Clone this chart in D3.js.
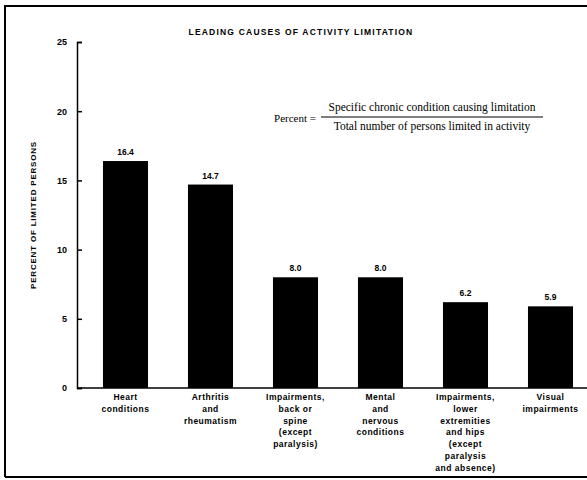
<!DOCTYPE html>
<html>
<head>
<meta charset="utf-8">
<script src="https://cdn.jsdelivr.net/npm/d3@7"></script>
<style>
  body { margin: 0; background: #fff; }
</style>
</head>
<body>
<div id="chart"></div>
<script>
// --- data ---
const categories = [
    ["Heart", "conditions"],
    ["Arthritis", "and", "rheumatism"],
    ["Impairments,", "back or", "spine", "(except", "paralysis)"],
    ["Mental", "and", "nervous", "conditions"],
    ["Impairments,", "lower", "extremities", "and hips", "(except", "paralysis", "and absence)"],
    ["Visual", "impairments"]
];
const values = [16.4, 14.7, 8.0, 8.0, 6.2, 5.9];
const yTicks = [0, 5, 10, 15, 20, 25];

const width = 587, height = 480;
const sans = "'Liberation Sans', Arial, sans-serif";
const serif = "'Liberation Serif', 'Times New Roman', serif";

const svg = d3.select("#chart").append("svg")
    .attr("width", width)
    .attr("height", height)
    .style("font-family", sans);

// frame
svg.append("path")
    .attr("d", "M5,477 L5,6 L587,6")
    .attr("fill", "none")
    .attr("stroke", "#000")
    .attr("stroke-width", 2);
svg.append("line")
    .attr("x1", 5).attr("x2", 587)
    .attr("y1", 477).attr("y2", 477)
    .attr("stroke", "#000").attr("stroke-width", 2);

// scales
const y = d3.scaleLinear().domain([0, 25]).range([388, 42]);
const x = d3.scaleBand()
    .domain(d3.range(values.length))
    .range([77, 587])
    .paddingInner(0.47)
    .paddingOuter(0.235)
    .align(0.65);

// y axis (ticks pointing inward)
const yAxis = svg.append("g")
    .attr("transform", "translate(77,0)")
    .call(d3.axisLeft(y).tickValues(yTicks).tickSize(-5).tickPadding(10).tickFormat(d3.format("d")));
yAxis.select(".domain").attr("stroke-width", 1.5);
yAxis.selectAll(".tick line").attr("stroke-width", 1.5);
yAxis.selectAll(".tick text")
    .attr("font-size", 9)
    .attr("font-weight", "bold")
    .attr("font-family", sans);

// x axis line
svg.append("line")
    .attr("x1", 77).attr("x2", 587)
    .attr("y1", y(0)).attr("y2", y(0))
    .attr("stroke", "#000").attr("stroke-width", 1.5);

// bars
svg.selectAll(".bar")
    .data(values)
    .enter()
    .append("rect")
    .attr("class", "bar")
    .attr("x", (d, i) => x(i))
    .attr("y", d => y(d))
    .attr("width", x.bandwidth())
    .attr("height", d => y(0) - y(d))
    .attr("fill", "#000");

// value labels
svg.selectAll(".val")
    .data(values)
    .enter()
    .append("text")
    .attr("class", "val")
    .attr("x", (d, i) => x(i) + x.bandwidth() / 2)
    .attr("y", d => y(d) - 6)
    .attr("text-anchor", "middle")
    .attr("font-size", 8.5)
    .attr("font-weight", "bold")
    .text(d => d.toFixed(1));

// category labels
const catG = svg.selectAll(".cat")
    .data(categories)
    .enter()
    .append("text")
    .attr("class", "cat")
    .attr("text-anchor", "middle")
    .attr("font-size", 8.5)
    .attr("font-weight", "bold")
    .attr("letter-spacing", 0.5);
catG.selectAll("tspan")
    .data((d, i) => d.map(line => ({ line, i })))
    .enter()
    .append("tspan")
    .attr("x", d => x(d.i) + x.bandwidth() / 2)
    .attr("y", (d, j) => 400 + j * 11.8)
    .text(d => d.line);

// title
svg.append("text")
    .attr("x", 301)
    .attr("y", 35)
    .attr("text-anchor", "middle")
    .attr("font-size", 8.5)
    .attr("font-weight", "bold")
    .attr("letter-spacing", 1.2)
    .text("LEADING CAUSES OF ACTIVITY LIMITATION");

// y axis title
svg.append("text")
    .attr("transform", "translate(36,215) rotate(-90)")
    .attr("text-anchor", "middle")
    .attr("font-size", 8)
    .attr("font-weight", "bold")
    .attr("letter-spacing", 0.8)
    .text("PERCENT OF LIMITED PERSONS");

// formula
svg.append("text")
    .attr("x", 316).attr("y", 122)
    .attr("text-anchor", "end")
    .style("font-family", serif)
    .attr("font-size", 11)
    .text("Percent =");
svg.append("line")
    .attr("x1", 321).attr("x2", 543)
    .attr("y1", 117).attr("y2", 117)
    .attr("stroke", "#000").attr("stroke-width", 1.2);
svg.append("text")
    .attr("x", 432).attr("y", 111)
    .attr("text-anchor", "middle")
    .style("font-family", serif)
    .attr("font-size", 11.5)
    .text("Specific chronic condition causing limitation");
svg.append("text")
    .attr("x", 432).attr("y", 130)
    .attr("text-anchor", "middle")
    .style("font-family", serif)
    .attr("font-size", 11.5)
    .text("Total number of persons limited in activity");
</script>
</body>
</html>
